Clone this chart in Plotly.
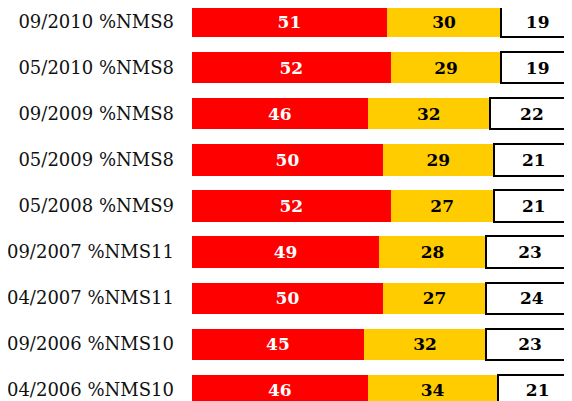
import plotly.graph_objects as go

categories = ["09/2010 %NMS8", "05/2010 %NMS8", "09/2009 %NMS8", "05/2009 %NMS8",
              "05/2008 %NMS9", "09/2007 %NMS11", "04/2007 %NMS11", "09/2006 %NMS10",
              "04/2006 %NMS10"]
red_vals = [51, 52, 46, 50, 52, 49, 50, 45, 46]
gold_vals = [30, 29, 32, 29, 27, 28, 27, 32, 34]
white_vals = [19, 19, 22, 21, 21, 23, 24, 23, 21]

FONT = "DejaVu Serif"

def bar(vals, color, txtcolor, line):
    return go.Bar(
        y=categories, x=vals, orientation="h",
        marker=dict(color=color, line=line),
        text=vals, textposition="inside", insidetextanchor="middle",
        textfont=dict(family=FONT, size=17, color=txtcolor, weight="bold"),
        constraintext="none", hoverinfo="skip")

fig = go.Figure()
fig.add_trace(bar(red_vals, "#FF0000", "white", dict(width=0)))
fig.add_trace(bar(gold_vals, "#FFCC00", "black", dict(width=0)))
fig.add_trace(bar(white_vals, "white", "black", dict(width=2, color="black")))

# page body has an 8px default margin, so the figure is sized to fill the rest
fig.update_layout(
    barmode="stack", bargap=0.326,
    width=564, height=393,
    margin=dict(l=184, r=0, t=0, b=0, autoexpand=False),
    paper_bgcolor="white", plot_bgcolor="white",
    showlegend=False,
    font=dict(family=FONT, size=18, color="#111111"),
    xaxis=dict(range=[0, 99.5], visible=False, fixedrange=True, automargin=False),
    yaxis=dict(categoryorder="array", categoryarray=categories,
               range=[8.239, -0.304], showgrid=False, zeroline=False,
               showline=False, ticks="", ticklabelstandoff=17, automargin=False,
               tickfont=dict(family=FONT, size=18, color="#111111")),
)
fig.write_html("out.html")
